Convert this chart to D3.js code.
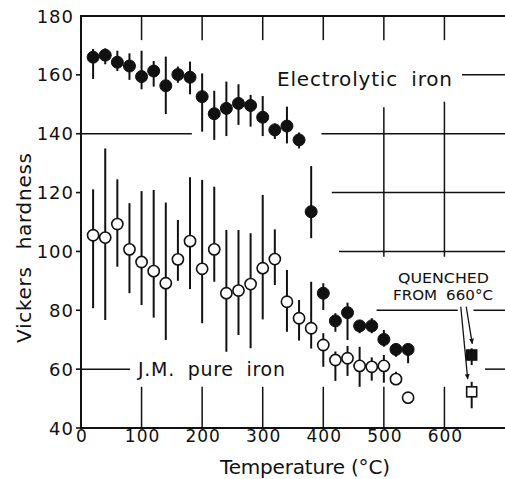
<!DOCTYPE html>
<html>
<head>
<meta charset="utf-8">
<script src="https://cdn.jsdelivr.net/npm/d3@7"></script>
<style>
  body { margin: 0; background: #fff; }
  svg text { font-family: "DejaVu Sans", sans-serif; fill: #111; }
</style>
</head>
<body>
<svg id="chart" width="505" height="479"></svg>
<script>

/*
 * DATA
 */

var temps = [20, 40, 60, 80, 100, 120, 140, 160, 180, 200, 220, 240, 260, 280,
             300, 320, 340, 360, 380, 400, 420, 440, 460, 480, 500, 520, 540];

// electrolytic iron (filled): mean, low, high
var electroMean = [166, 166.7, 164.3, 163, 159.4, 161.3, 156.3, 160.1, 159.2, 152.6, 146.8, 148.6, 150.3, 149.6,
                   145.6, 141.3, 142.6, 137.9, 113.5, 85.8, 76.4, 79.2, 74.7, 74.7, 70.1, 66.7, 66.7];
var electroLow  = [158.6, 163.6, 161.3, 158.3, 155.1, 156, 146.7, 157.3, 153.4, 140.7, 137.9, 139.2, 143, 142.4,
                   139.2, 138.2, 136.7, 135, 104.5, 80.1, 72.7, 69.9, 72.2, 72.2, 67.6, 64.2, 62];
var electroHigh = [168.8, 169, 168.2, 167.3, 168.2, 164.7, 166.2, 162.8, 164.5, 160.5, 154.6, 157.7, 156.8, 153.2,
                   152.8, 143.5, 149.2, 140.4, 129, 89.2, 79, 82.6, 76.7, 77.3, 73.3, 68.8, 68.4];

// J.M. pure iron (open)
var pureMean = [105.5, 104.7, 109.3, 100.7, 96.4, 93.3, 89.2, 97.3, 103.5, 94.1, 100.7, 85.8, 86.7, 88.9,
                94.3, 97.4, 82.9, 77.3, 73.9, 68.2, 63.1, 63.7, 61.1, 60.8, 61.1, 56.6, 50.3];
var pureLow  = [80.7, 76.7, 94.8, 85.8, 81.8, 77.5, 69.9, 90, 87.2, 75.6, 89.7, 65.9, 71.6, 67.1,
                76.9, 88.6, 72.7, 69.7, 67, 60.8, 56, 57.7, 54, 56.1, 55.4, 54.6, 48.4];
var pureHigh = [121.1, 135, 124.5, 116.4, 120.5, 120.9, 116.6, 110.7, 125.2, 124.3, 122, 107.3, 107.3, 106.2,
                119.2, 107.5, 93.7, 83.5, 89.7, 72.2, 66, 67.9, 67.6, 64, 64.8, 59.1, 52.1];

// quenched from 660 C: [temp, mean, low, high, filled]
var quenched = [
  [645, 64.8, 61.4, 67.1, true],
  [645, 52.3, 46.7, 55.7, false]
];

var xTicks = [0, 100, 200, 300, 400, 500, 600];
var yTicks = [40, 60, 80, 100, 120, 140, 160, 180];

// grid pieces, broken around the data: [x1, x2, y] and [x, y1, y2]
var hGrid = [[0, 183, 140], [397, 700, 140], [414, 700, 120], [426, 700, 100],
             [488, 622, 80], [648, 700, 80], [667, 700, 60], [0, 81, 60], [629, 700, 160]];
var vGrid = [[500, 98.2, 149], [600, 98.2, 150.9]];
var topTicks = [100, 200, 300, 400, 500, 600];
var bottomTicks = [100, 200, 300, 400, 500, 600];

// arrows: [x1, y1, x2, y2]
var arrows = [[627, 81.2, 638.4, 56.6], [636, 81.2, 646, 68.6]];

/*
 * SCALES
 */

var svg = d3.select('#chart');
var x = d3.scaleLinear().domain([0, 700]).range([81, 505]);
var y = d3.scaleLinear().domain([40, 180]).range([428, 16]);

var ink = '#111';

// frame
svg.append('path')
    .attr('d', 'M' + x(700) + ',' + y(180) + 'H' + x(0) + 'V' + y(40) + 'H' + x(700))
    .attr('fill', 'none').attr('stroke', ink).attr('stroke-width', 2);

// y ticks (outward)
svg.selectAll('.ytick').data(yTicks.slice(0, -1)).enter().append('line')
    .attr('x1', x(0) - 5).attr('x2', x(0))
    .attr('y1', function (d) { return y(d); }).attr('y2', function (d) { return y(d); })
    .attr('stroke', ink).attr('stroke-width', 1.6);

svg.selectAll('.ylab').data(yTicks).enter().append('text')
    .attr('x', 74).attr('y', function (d) { return y(d) + 6.5; })
    .attr('text-anchor', 'end').attr('font-size', 18)
    .attr('letter-spacing', 1)
    .text(function (d) { return d; });

svg.selectAll('.xlab').data(xTicks).enter().append('text')
    .attr('x', function (d) { return x(d) + 1; }).attr('y', 442)
    .attr('text-anchor', 'middle').attr('font-size', 17)
    .attr('letter-spacing', 1)
    .text(function (d) { return d; });

// grid
svg.selectAll('.hgrid').data(hGrid).enter().append('line')
    .attr('x1', function (d) { return x(d[0]); }).attr('x2', function (d) { return x(d[1]); })
    .attr('y1', function (d) { return y(d[2]); }).attr('y2', function (d) { return y(d[2]); })
    .attr('stroke', ink).attr('stroke-width', 1.5);

svg.selectAll('.vgrid').data(vGrid).enter().append('line')
    .attr('x1', function (d) { return x(d[0]); }).attr('x2', function (d) { return x(d[0]); })
    .attr('y1', function (d) { return y(d[1]); }).attr('y2', function (d) { return y(d[2]); })
    .attr('stroke', ink).attr('stroke-width', 1.5);

svg.selectAll('.ttick').data(topTicks).enter().append('line')
    .attr('x1', function (d) { return x(d); }).attr('x2', function (d) { return x(d); })
    .attr('y1', y(180)).attr('y2', y(171.8))
    .attr('stroke', ink).attr('stroke-width', 1.5);

svg.selectAll('.btick').data(bottomTicks).enter().append('line')
    .attr('x1', function (d) { return x(d); }).attr('x2', function (d) { return x(d); })
    .attr('y1', y(40)).attr('y2', y(54))
    .attr('stroke', ink).attr('stroke-width', 1.5);

/*
 * SERIES
 */

function drawSeries(mean, low, high, filled) {
    var pts = temps.map(function (t, i) {
        return { t: t, v: mean[i], lo: low[i], hi: high[i] };
    });
    var g = svg.append('g');
    g.selectAll('line').data(pts).enter().append('line')
        .attr('x1', function (d) { return x(d.t); }).attr('x2', function (d) { return x(d.t); })
        .attr('y1', function (d) { return y(d.lo); }).attr('y2', function (d) { return y(d.hi); })
        .attr('stroke', ink).attr('stroke-width', 2);
    g.selectAll('circle').data(pts).enter().append('circle')
        .attr('cx', function (d) { return x(d.t); }).attr('cy', function (d) { return y(d.v); })
        .attr('r', filled ? 6 : 5.6)
        .attr('fill', filled ? ink : '#fff')
        .attr('stroke', ink).attr('stroke-width', filled ? 1 : 1.6);
}

drawSeries(pureMean, pureLow, pureHigh, false);
drawSeries(electroMean, electroLow, electroHigh, true);

var q = svg.append('g');
q.selectAll('line').data(quenched).enter().append('line')
    .attr('x1', function (d) { return x(d[0]); }).attr('x2', function (d) { return x(d[0]); })
    .attr('y1', function (d) { return y(d[2]); }).attr('y2', function (d) { return y(d[3]); })
    .attr('stroke', ink).attr('stroke-width', 2);
q.selectAll('rect').data(quenched).enter().append('rect')
    .attr('x', function (d) { return x(d[0]) - 5; }).attr('y', function (d) { return y(d[1]) - 5; })
    .attr('width', 10).attr('height', 10)
    .attr('fill', function (d) { return d[4] ? ink : '#fff'; })
    .attr('stroke', ink).attr('stroke-width', 1.6);

// arrows
svg.append('defs').append('marker')
    .attr('id', 'head').attr('viewBox', '0 0 10 10')
    .attr('refX', 10).attr('refY', 5)
    .attr('markerWidth', 6).attr('markerHeight', 5)
    .attr('markerUnits', 'userSpaceOnUse')
    .attr('orient', 'auto')
  .append('path').attr('d', 'M0,0L10,5L0,10Z').attr('fill', ink);

svg.selectAll('.arrow').data(arrows).enter().append('line')
    .attr('x1', function (d) { return x(d[0]); }).attr('y1', function (d) { return y(d[1]); })
    .attr('x2', function (d) { return x(d[2]); }).attr('y2', function (d) { return y(d[3]); })
    .attr('stroke', ink).attr('stroke-width', 1.3)
    .attr('marker-end', 'url(#head)');

/*
 * TEXT
 */

svg.append('text').attr('x', 277).attr('y', 86)
    .attr('font-size', 20).attr('textLength', 175).attr('lengthAdjust', 'spacing')
    .attr('word-spacing', 6)
    .text('Electrolytic iron');

svg.append('text').attr('x', 138).attr('y', 376)
    .attr('font-size', 19).attr('textLength', 147).attr('lengthAdjust', 'spacing')
    .attr('word-spacing', 6)
    .text('J.M. pure iron');

svg.append('text').attr('x', 398).attr('y', 283)
    .attr('font-size', 14.5).attr('textLength', 91).attr('lengthAdjust', 'spacingAndGlyphs')
    .text('QUENCHED');

svg.append('text').attr('x', 393).attr('y', 300)
    .attr('font-size', 14.5).attr('textLength', 100).attr('lengthAdjust', 'spacingAndGlyphs')
    .attr('word-spacing', 4)
    .text('FROM 660°C');

svg.append('text').attr('x', 220).attr('y', 474)
    .attr('font-size', 20).attr('textLength', 170).attr('lengthAdjust', 'spacing')
    .text('Temperature (°C)');

svg.append('text')
    .attr('transform', 'translate(31,343) rotate(-90)')
    .attr('font-size', 20).attr('textLength', 190).attr('lengthAdjust', 'spacing')
    .attr('word-spacing', 10)
    .text('Vickers hardness');

</script>
</body>
</html>
